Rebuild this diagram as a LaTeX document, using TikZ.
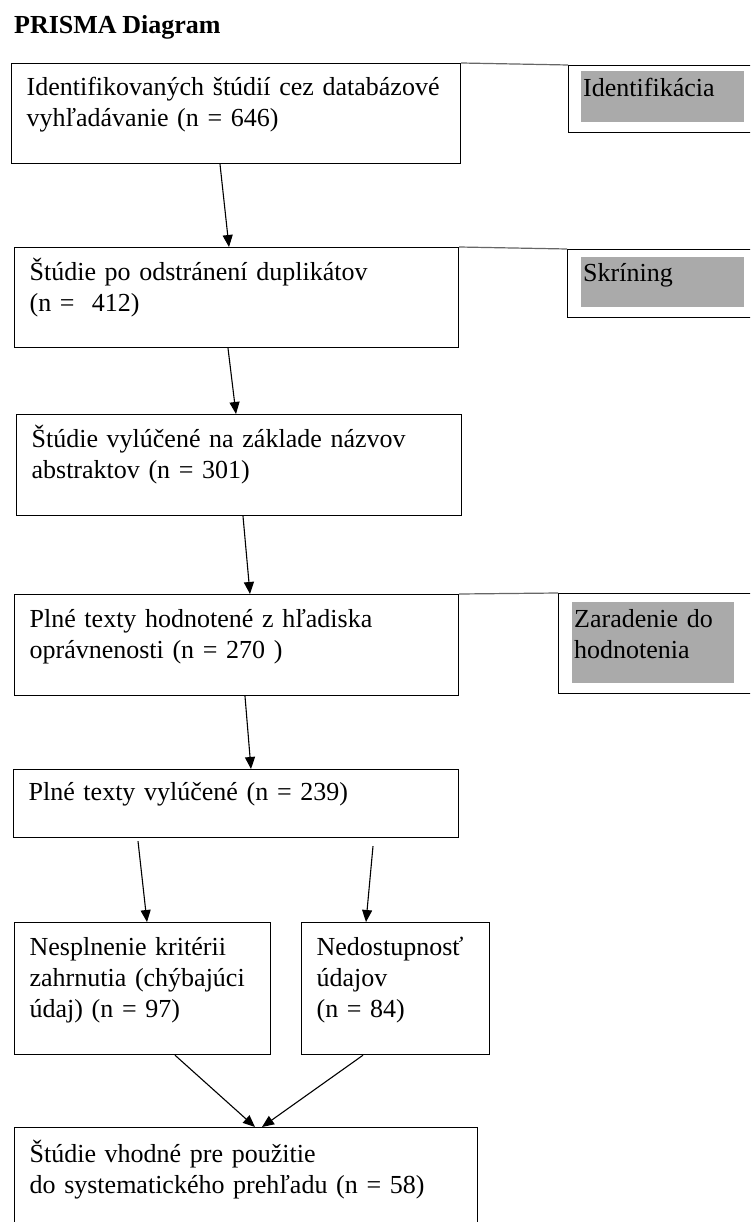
\documentclass[tikz,border=0pt]{standalone}
\usepackage{fontspec}
\setmainfont[WordSpace = 0.85]{Liberation Serif}
\usetikzlibrary{arrows.meta}
\usetikzlibrary{positioning}
\definecolor{labelgray}{RGB}{170,170,170}
\tikzset{box/.style = {draw, line width = 1.2, anchor = north west, align = left,
    inner xsep = 15, inner ysep = 0, font = \fontsize{26}{31}\selectfont}}
\tikzset{tab/.style = {draw, line width = 1.2, anchor = north west, minimum width = 200}}
\tikzset{tabfill/.style = {fill = labelgray, anchor = north west, align = left,
    inner xsep = 2, inner ysep = 0, text width = 159, font = \fontsize{26}{31}\selectfont}}
\tikzset{link/.style = {draw = black!60, line width = 1.2}}
\tikzset{arr/.style = {line width = 1.1, -{Triangle[length = 12, width = 10]}}}

\begin{document}
\begin{tikzpicture}[x = 1pt, y = -1pt]
      \useasboundingbox (0, 0) rectangle (750, 1222);
      \clip (0, 0) rectangle (750, 1222);
      \node [anchor = base west, inner sep = 0, font = \fontsize{26}{31}\selectfont\bfseries]
        (title) at (14, 34) {PRISMA Diagram};

      % main column
      \node [box, text width = 419, text height = 32, text depth = 68] (ident) at (11, 63)
        {Identifikovaných štúdií cez databázové\\ vyhľadávanie (n = 646)};
      \node [box, text width = 414, text height = 33, text depth = 67] (dupl) at (14, 247)
        {Štúdie po odstránení duplikátov\\ (n =\ \ 412)};
      \node [box, text width = 415, text height = 33, text depth = 68] (abstr) at (16, 414)
        {Štúdie vylúčené na základe názvov\\ abstraktov (n = 301)};
      \node [box, text width = 414, text height = 33, text depth = 68] (full) at (14, 594)
        {Plné texty hodnotené z hľadiska\\ oprávnenosti (n = 270 )};
      \node [box, text width = 415, text height = 31, text depth = 37] (excl) at (13, 769)
        {Plné texty vylúčené (n = 239)};
      \node [box, text width = 226, text height = 33, text depth = 99] (crit) at (14, 922)
        {Nesplnenie kritérii\\ zahrnutia (chýbajúci\\ údaj) (n = 97)};
      \node [box, text width = 158, text height = 33, text depth = 99] (avail) at (301, 922)
        {Nedostupnosť\\ údajov\\ (n = 84)};
      \node [box, text width = 433, text height = 35, text depth = 120] (final) at (14, 1127)
        {Štúdie vhodné pre použitie\\ do systematického prehľadu (n = 58)};

      % phase tabs
      \node [tab, minimum height = 67] (tabid) at (568, 65) {};
      \node [tabfill, text height = 25, text depth = 26] (tabidtxt) at (581, 71) {Identifikácia};
      \node [tab, minimum height = 68] (tabscr) at (567, 249) {};
      \node [tabfill, text height = 24, text depth = 26] (tabscrtxt) at (581, 257) {Skríning};
      \node [tab, minimum height = 100] (tabinc) at (558, 593) {};
      \node [tabfill, text width = 158, text height = 25, text depth = 56] (tabinctxt) at (572, 602)
        {Zaradenie do\\ hodnotenia};

      \draw [link] (ident.north east) -- (tabid.north west);
      \draw [link] (dupl.north east) -- (tabscr.north west);
      \draw [link] (full.north east) -- (tabinc.north west);

      % arrows
      \draw [arr] ([xshift = 209]ident.south west) -- ([xshift = 215]dupl.north west);
      \draw [arr] ([xshift = 214]dupl.south west) -- ([xshift = 220]abstr.north west);
      \draw [arr] ([xshift = 227]abstr.south west) -- ([xshift = 236]full.north west);
      \draw [arr] ([xshift = 231]full.south west) -- ([xshift = 238]excl.north west);
      \draw [arr] ([xshift = 125, yshift = -3]excl.south west) -- ([xshift = 133]crit.north west);
      \draw [arr] ([xshift = 360, yshift = -8]excl.south west) -- ([xshift = 65]avail.north west);
      \draw [arr] ([xshift = 161]crit.south west) -- ([xshift = 241]final.north west);
      \draw [arr] ([xshift = 62]avail.south west) -- ([xshift = 248]final.north west);
    \end{tikzpicture}
\end{document}
